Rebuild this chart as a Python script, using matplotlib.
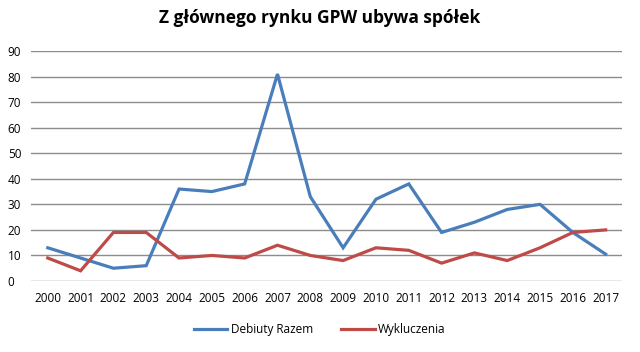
import matplotlib
matplotlib.use("Agg")
import matplotlib.pyplot as plt

# Dane
lata = [str(r) for r in range(2000, 2018)]
debiuty = [13, 9, 5, 6, 36, 35, 38, 81, 33, 13, 32, 38, 19, 23, 28, 30, 19, 10.5]
wykluczenia = [9, 4, 19, 19, 9, 10, 9, 14, 10, 8, 13, 12, 7, 11, 8, 13, 19, 20]
y_ticks = list(range(0, 100, 10))

plt.rcParams['font.family'] = ['Open Sans', 'DejaVu Sans']

fig = plt.figure(figsize=(6.4, 3.52), dpi=100)
ax = fig.add_axes([0.049, 0.2017, 0.923, 0.6533])

x = range(len(lata))
ax.plot(x, debiuty, color='#4A7EBB', lw=2.3, label='Debiuty Razem', solid_joinstyle='miter')
ax.plot(x, wykluczenia, color='#BE4B48', lw=2.3, label='Wykluczenia', solid_joinstyle='miter')

ax.set_xlim(-0.5, len(lata) - 0.5)
ax.set_ylim(0, 90)
ax.set_yticks(y_ticks)
ax.set_xticks(list(x))
ax.set_xticklabels(lata)
ax.grid(axis='y', color='#8C8C8C', lw=1)
ax.set_axisbelow(True)
for s in ax.spines.values():
    s.set_visible(False)
ax.tick_params(length=0, labelsize=8.5, colors='#000000')
ax.tick_params(axis='x', pad=8)
ax.tick_params(axis='y', pad=17)
for lbl in ax.get_yticklabels():
    lbl.set_horizontalalignment('left')

fig.suptitle('Z głównego rynku GPW ubywa spółek', fontsize=12.5, fontweight='bold', y=0.975)
fig.legend(loc='lower center', ncol=2, frameon=False, fontsize=8.5,
           bbox_to_anchor=(0.5, 0.015), handlelength=2.8, handletextpad=0.3,
           columnspacing=2.4)

fig.savefig('out.png', dpi=100)
